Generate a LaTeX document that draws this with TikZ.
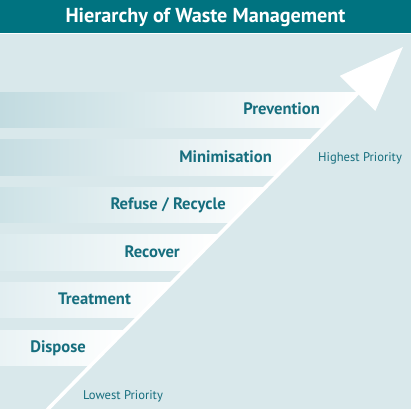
\documentclass[tikz,border=0pt]{standalone}
\usepackage{fontspec}
\setmainfont{PT Sans}
\usetikzlibrary{arrows.meta}
\definecolor{headbg}{RGB}{0,115,128}
\definecolor{backg}{RGB}{217,232,235}
\definecolor{labeltext}{RGB}{22,110,126}
\definecolor{bandA}{RGB}{194,219,224}
\definecolor{bandB}{RGB}{198,221,226}
\definecolor{bandC}{RGB}{205,226,230}
\definecolor{bandD}{RGB}{220,235,238}
\definecolor{bandE}{RGB}{226,238,241}
\definecolor{bandF}{RGB}{234,243,245}

\begin{document}
\begin{tikzpicture}[x=1pt, y=-1pt,
    steplabel/.style={anchor=base east, inner sep=0pt, text=labeltext, font=\bfseries\fontsize{16.6}{19}\selectfont},
    priolabel/.style={anchor=base west, inner sep=0pt, text=labeltext, font=\fontsize{12.6}{15}\selectfont},
    bigarrow/.style={white, line width=3.6pt, -{Triangle[length=65pt, width=49pt]}}]
        \useasboundingbox (0,0) rectangle (411,409);
        \clip (0,0) rectangle (411,409);

        % Fondo y cabecera
        \fill[backg] (0,0) rectangle (411,409);
        \fill[headbg] (0,0) rectangle (411,33);
        \draw[white, line width=1pt] (0,33.5) -- (411,33.5);
        \node[anchor=base, inner sep=0pt, text=white, font=\bfseries\fontsize{20.2}{24}\selectfont] (title) at (205.5,23) {Hierarchy of Waste Management};

        % Bandas
        \begin{scope}
            \clip (0,34) -- (415.7,34) -- (40,417.2) -- (0,417.2) -- cycle;
            \shade[left color=bandA, right color=white] (0,92) rectangle (359,127.5);
            \shade[left color=bandB, right color=white] (0,139.5) rectangle (312,175);
            \shade[left color=bandC, right color=white] (0,187) rectangle (266,222.5);
            \shade[left color=bandD, right color=white] (0,234.5) rectangle (219,270);
            \shade[left color=bandE, right color=white] (0,282) rectangle (172,317.5);
            \shade[left color=bandF, right color=white] (0,330) rectangle (126,365.5);
        \end{scope}

        % Flecha
        \coordinate (low) at (40,417.2);
        \coordinate (high) at (403,47);
        \draw[bigarrow] (low) -- (high);

        % Etiquetas
        \node[steplabel] (prevention) at (320,114.3) {Prevention};
        \node[steplabel] (minimisation) at (272,162) {Minimisation};
        \node[steplabel] (refuse) at (226,209.5) {Refuse / Recycle};
        \node[steplabel] (recover) at (180,257) {Recover};
        \node[steplabel] (treatment) at (131,304.5) {Treatment};
        \node[steplabel] (dispose) at (86,352) {Dispose};

        \node[priolabel] (highest) at (318,161) {Highest Priority};
        \node[priolabel] (lowest) at (83,399) {Lowest Priority};
    \end{tikzpicture}
\end{document}
